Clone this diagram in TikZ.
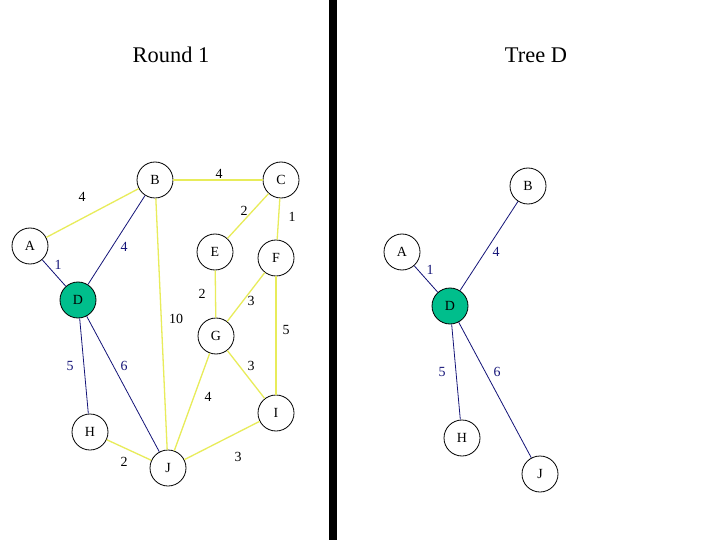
\documentclass[tikz,border=0pt]{standalone}
\usepackage{fontspec}
\setmainfont{Liberation Serif}
\definecolor{edgeyellow}{RGB}{232,236,90}
\definecolor{treeblue}{RGB}{20,20,120}
\definecolor{rootgreen}{RGB}{0,190,140}

\begin{document}
\begin{tikzpicture}[x=1bp, y=-1bp,
    vert/.style={draw, circle, minimum size=36bp, inner sep=0pt,
                 line width=0.8bp, fill=white, font=\fontsize{14}{14}\selectfont},
    root/.style={vert, fill=rootgreen},
    plain/.style={draw=edgeyellow, line width=1.3bp},
    tree/.style={draw=treeblue, line width=0.8bp},
    wt/.style={font=\fontsize{14}{14}\selectfont, inner sep=0pt},
    twt/.style={wt, text=treeblue},
    title/.style={font=\fontsize{22.5}{22.5}\selectfont},
  ]
  \useasboundingbox (0,0) rectangle (720,540);
  \fill[white] (0,0) rectangle (720,540);
  \fill[black] (329,0) rectangle (337,540);

  \node[title] (round) at (171,55) {Round 1};
  \node[title] (treed) at (536,55) {Tree D};

  % left: the whole graph
  \node[vert] (lA) at (30,246)  {A};
  \node[vert] (lB) at (155,180) {B};
  \node[vert] (lC) at (281,180) {C};
  \node[root] (lD) at (78,300)  {D};
  \node[vert] (lE) at (215,252) {E};
  \node[vert] (lF) at (276,258) {F};
  \node[vert] (lG) at (216,336) {G};
  \node[vert] (lH) at (90,432)  {H};
  \node[vert] (lI) at (276,413) {I};
  \node[vert] (lJ) at (168,468) {J};

  \draw[plain] (lA) -- (lB);
  \draw[plain] (lB) -- (lC);
  \draw[plain] (lC) -- (lE);
  \draw[plain] (lC) -- (lF);
  \draw[plain] (lB) -- (lJ);
  \draw[plain] (lE) -- (lG);
  \draw[plain] (lF) -- (lG);
  \draw[plain] (lF) -- (lI);
  \draw[plain] (lG) -- (lI);
  \draw[plain] (lG) -- (lJ);
  \draw[plain] (lH) -- (lJ);
  \draw[plain] (lJ) -- (lI);
  \draw[tree]  (lA) -- (lD);
  \draw[tree]  (lB) -- (lD);
  \draw[tree]  (lD) -- (lH);
  \draw[tree]  (lD) -- (lJ);

  \node[wt]  (wAB) at (82,197)  {4};
  \node[wt]  (wBC) at (219,174) {4};
  \node[wt]  (wCE) at (244,211) {2};
  \node[wt]  (wCF) at (292,217) {1};
  \node[twt] (wBD) at (124,247) {4};
  \node[twt] (wAD) at (58,265)  {1};
  \node[wt]  (wEG) at (202,294) {2};
  \node[wt]  (wFG) at (251,301) {3};
  \node[wt]  (wBJ) at (176,319) {10};
  \node[wt]  (wFI) at (286,330) {5};
  \node[twt] (wDH) at (70,366)  {5};
  \node[twt] (wDJ) at (124,366) {6};
  \node[wt]  (wGI) at (251,366) {3};
  \node[wt]  (wGJ) at (208,397) {4};
  \node[wt]  (wHJ) at (124,462) {2};
  \node[wt]  (wJI) at (238,457) {3};

  % right: the tree of D
  \node[vert] (rA) at (402,252) {A};
  \node[vert] (rB) at (528,186) {B};
  \node[root] (rD) at (450,306) {D};
  \node[vert] (rH) at (462,438) {H};
  \node[vert] (rJ) at (540,474) {J};

  \draw[tree] (rA) -- (rD);
  \draw[tree] (rB) -- (rD);
  \draw[tree] (rD) -- (rH);
  \draw[tree] (rD) -- (rJ);

  \node[twt] (tAD) at (430,270) {1};
  \node[twt] (tBD) at (496,252) {4};
  \node[twt] (tDH) at (442,372) {5};
  \node[twt] (tDJ) at (497,372) {6};
\end{tikzpicture}
\end{document}
